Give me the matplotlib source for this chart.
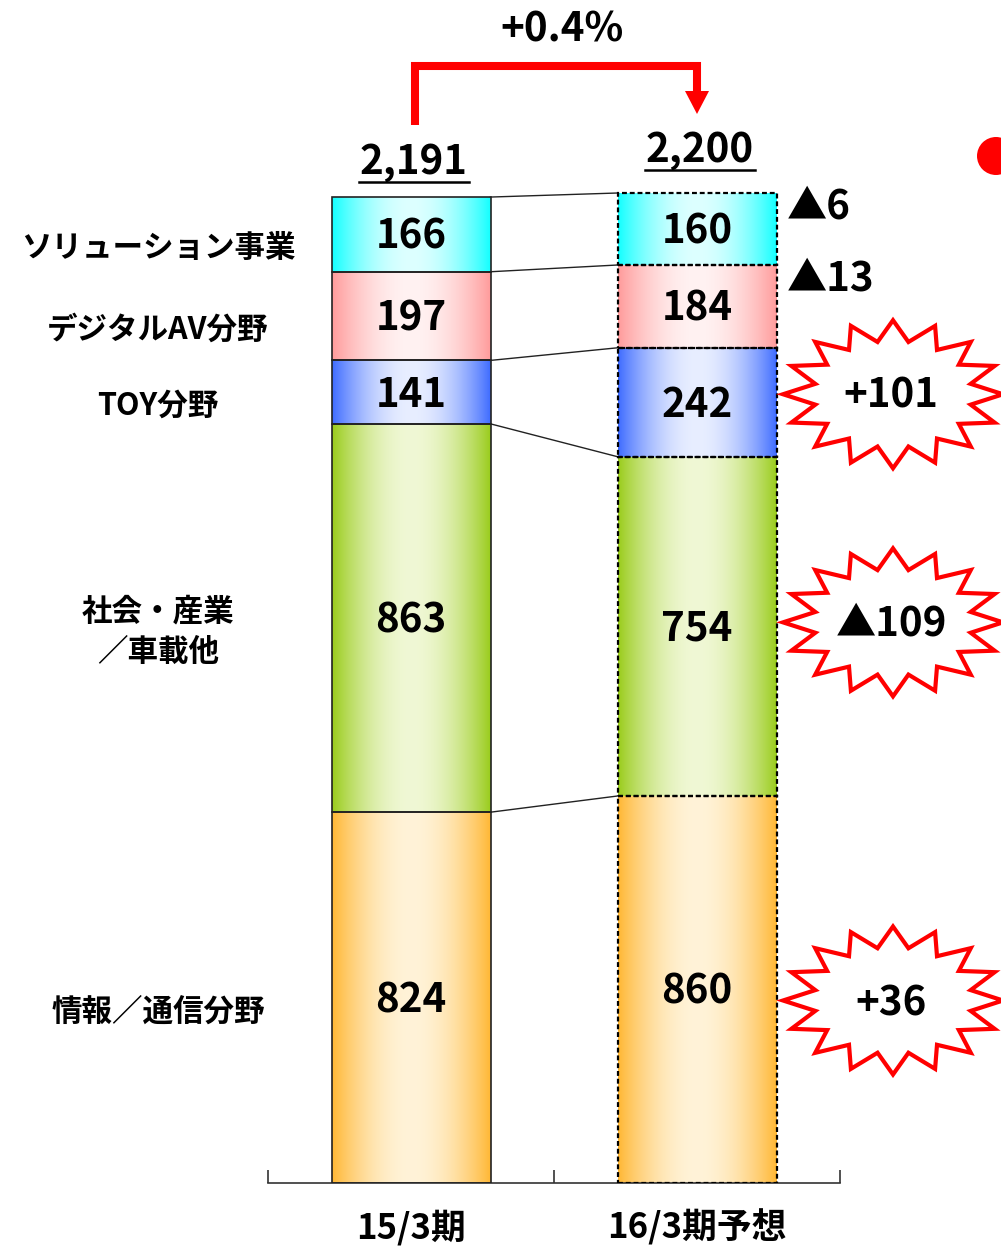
import numpy as np
import matplotlib
matplotlib.use('Agg')
import matplotlib.pyplot as plt
from matplotlib.colors import to_rgb
from matplotlib.patches import Rectangle, Polygon, Ellipse

plt.rcParams['font.family'] = ['Noto Sans CJK JP', 'DejaVu Sans']

# 売上高（億円）: bottom segment first
periods = ['15/3期', '16/3期予想']
segments = ['情報／通信分野', '社会・産業\n／車載他', 'TOY分野', 'デジタルAV分野', 'ソリューション事業']
sales_15 = [824, 863, 141, 197, 166]
sales_16 = [860, 754, 242, 184, 160]
totals = [2191, 2200]
growth_label = '+0.4%'
burst = [True, True, True, False, False]

edge_colors = ['#FFB733', '#99CC1A', '#3D6BFF', '#FF9A9A', '#11FFFF']
center_colors = ['#FFF3D8', '#F0F8D5', '#E8EEFF', '#FFF2F2', '#DDFFFF']

diffs = [b - a for a, b in zip(sales_15, sales_16)]
diff_labels = [('+' if d > 0 else '▲') + str(abs(d)) for d in diffs]

# pixel scale of the value axis
PX = 0.45          # px per unit
CAT = 286          # px per category
ymax = 1183 / PX

fig = plt.figure(figsize=(10.01, 12.5), dpi=100)
ax = fig.add_axes([268 / 1001, 67 / 1250, 572 / 1001, 1183 / 1250])

xc = [0.5, 1.5]
bw = 159 / CAT


def dx(px):
    return px / CAT


def dy(px):
    return px / PX


def gradient(edge, center, n=256):
    t = np.linspace(0, 1, n)
    f = np.sin(np.pi * t) ** 0.9
    e = np.array(to_rgb(edge))
    c = np.array(to_rgb(center))
    row = e[None, :] * (1 - f[:, None]) + c[None, :] * f[:, None]
    return row[None, :, :]


stacks = [sales_15, sales_16]
cums = [np.concatenate([[0], np.cumsum(s)]) for s in stacks]

for b, (vals, cum) in enumerate(zip(stacks, cums)):
    x0, x1 = xc[b] - bw / 2, xc[b] + bw / 2
    for i, v in enumerate(vals):
        y0, y1 = cum[i], cum[i + 1]
        ax.imshow(gradient(edge_colors[i], center_colors[i]), extent=(x0, x1, y0, y1),
                  aspect='auto', interpolation='bilinear', zorder=1)
        if b == 0:
            ax.add_patch(Rectangle((x0, y0), bw, v, fill=False, ec='#222222', lw=1.2, zorder=3))
        else:
            ax.add_patch(Rectangle((x0, y0), bw, v, fill=False, ec='black', lw=1.6,
                                   ls=(0, (2.2, 1.3)), zorder=3))
        ax.text(xc[b], (y0 + y1) / 2 - dy(3), str(v), ha='center', va='center',
                fontsize=29, fontweight='bold', zorder=4)

# connector lines between the two stacks
for k in range(1, len(sales_15) + 1):
    ax.plot([xc[0] + bw / 2, xc[1] - bw / 2], [cums[0][k], cums[1][k]],
            color='#222222', lw=1.0, zorder=2)

# totals with underline
total_off = [34, 42]
for b, t in enumerate(totals):
    yt = cums[b][-1] + dy(total_off[b])
    ax.text(xc[b] + dx(3), yt, f'{t:,}', ha='center', va='center',
            fontsize=29, fontweight='bold')
    yl = yt - dy(19)
    ax.plot([xc[b] + dx(3) - dx(55), xc[b] + dx(3) + dx(55)], [yl, yl],
            color='black', lw=1.8, clip_on=False)

# red growth arrow
ax_l = xc[0] + dx(4)
ax_r = xc[1]
y_top = dy(1183 - 66)
ax.plot([ax_l, ax_l, ax_r, ax_r], [dy(1183 - 125), y_top, y_top, dy(1183 - 91)],
        color='red', lw=5.8, solid_joinstyle='miter', solid_capstyle='butt', clip_on=False)
ax.add_patch(Polygon([[ax_r - dx(12), dy(1183 - 91)], [ax_r + dx(12), dy(1183 - 91)],
                      [ax_r, dy(1183 - 114)]], closed=True, fc='red', ec='none', clip_on=False))
ax.text((ax_l + ax_r) / 2 + dx(6), dy(1183 - 30), growth_label, ha='center', va='center',
        fontsize=29, fontweight='bold')


def star(cx, cy, rx, ry, n=16, inner=0.72):
    ang = np.pi / 2 + np.arange(2 * n) * np.pi / n
    r = np.where(np.arange(2 * n) % 2 == 0, 1.0, inner)
    return np.column_stack([cx + dx(rx) * r * np.cos(ang), cy + dy(ry) * r * np.sin(ang)])


# change labels to the right of the forecast bar
star_x = xc[1] + dx(196)
star_dy = [-11, 4, 8, 0, 0]
text_dy = [-14, 2, 6, 0, 0]
for i, lab in enumerate(diff_labels):
    ymid = (cums[1][i] + cums[1][i + 1]) / 2
    if burst[i]:
        ax.add_patch(Polygon(star(star_x, ymid + dy(star_dy[i]), 110, 74), closed=True,
                             fc='white', ec='red', lw=3, joinstyle='miter', clip_on=False, zorder=5))
        ax.text(star_x - dx(2), ymid + dy(text_dy[i]), lab, ha='center', va='center',
                fontsize=29, fontweight='bold', zorder=6, clip_on=False)
    else:
        ax.text(xc[1] + bw / 2 + dx(10), cums[1][i + 1] - dy(14), lab, ha='left', va='center',
                fontsize=29, fontweight='bold', clip_on=False)

# segment names on the left
for i, name in enumerate(segments):
    ymid = (cums[0][i] + cums[0][i + 1]) / 2
    ax.text(dx(158 - 268), ymid - dy(14), name, ha='center', va='center',
            fontsize=22, fontweight='bold', linespacing=1.35, clip_on=False)

# red bullet at the right edge
ax.add_patch(Ellipse((dx(996 - 268), dy(1183 - 156)), dx(38), dy(38), fc='red', ec='none',
                     clip_on=False))

ax.set_xlim(0, 2)
ax.set_ylim(0, ymax)
for s in ['top', 'left', 'right']:
    ax.spines[s].set_visible(False)
ax.spines['bottom'].set_color('#333333')
ax.spines['bottom'].set_linewidth(1.2)
ax.set_yticks([])
ax.set_xticks([0, 1, 2], labels=['', '', ''])
ax.tick_params(axis='x', which='major', direction='in', length=9.5, width=1.2, color='#333333')
ax.set_xticks(xc, labels=periods, minor=True)
ax.tick_params(axis='x', which='minor', length=0, pad=19, labelsize=25)
for t in ax.get_xticklabels(minor=True):
    t.set_fontweight('bold')
ax.patch.set_alpha(0)

fig.savefig('out.png', dpi=100)
